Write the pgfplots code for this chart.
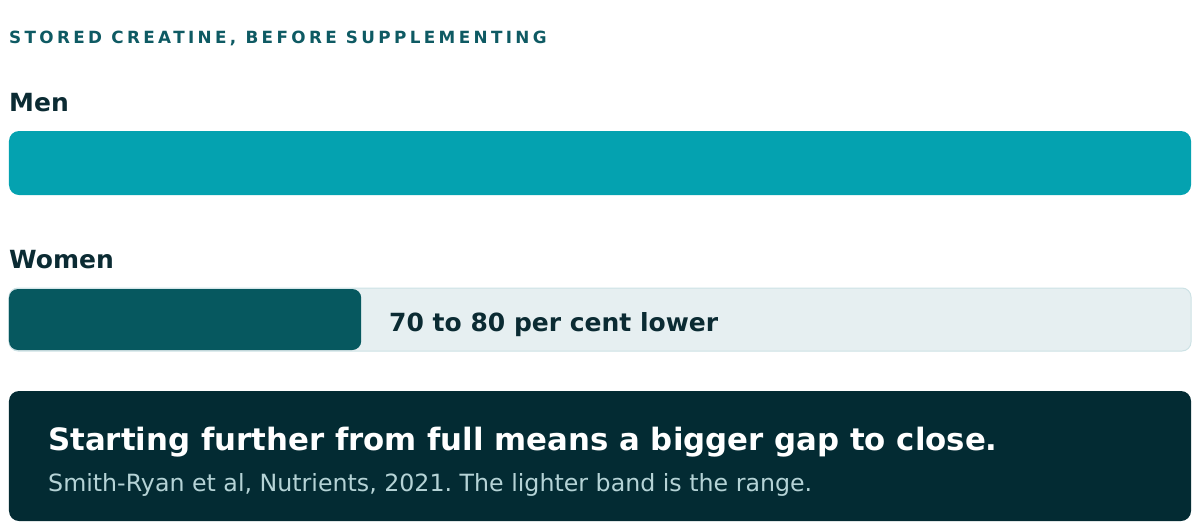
\documentclass[border=0pt]{standalone}
\usepackage{pgfplots}
\pgfplotsset{compat=1.18}
\usepackage{fontspec}
\setmainfont{DejaVu Sans}
\newfontfamily\trackfont[LetterSpace=20]{DejaVu Sans Bold}
\frenchspacing
\definecolor{menc}{RGB}{4,162,176}
\definecolor{womenc}{RGB}{6,88,95}
\definecolor{trackc}{RGB}{230,239,241}
\definecolor{trackb}{RGB}{205,226,229}
\definecolor{labc}{RGB}{11,43,51}
\definecolor{titc}{RGB}{14,90,99}
\definecolor{boxc}{RGB}{3,43,51}
\definecolor{subc}{RGB}{181,211,214}
\begin{document}
\begin{tikzpicture}[x=1pt,y=1pt]
\useasboundingbox (0,0) rectangle (1200,531);
\begin{axis}[
  at={(0,0)}, anchor=south west,
  scale only axis, width=1200pt, height=531pt,
  xmin=-0.7614, xmax=100.7614,
  ymin=0, ymax=531, y dir=reverse,
  hide axis, clip=false,
]
% track (full scale) for women
\addplot[fill=trackc, draw=trackb, line width=1pt, rounded corners=9pt]
  coordinates {(0,288) (100,288) (100,351) (0,351)} --cycle;
% men: 100 (reference level)
\addplot[fill=menc, draw=none, rounded corners=10pt]
  coordinates {(0,131) (100,131) (100,195) (0,195)} --cycle;
% women: 70 to 80 per cent lower
\addplot[fill=womenc, draw=none, rounded corners=9pt]
  coordinates {(0,289) (29.8,289) (29.8,350) (0,350)} --cycle;
% summary box
\addplot[fill=boxc, draw=none, rounded corners=10pt]
  coordinates {(0,391) (100,391) (100,521) (0,521)} --cycle;
\end{axis}
\node[anchor=base west, inner sep=0pt, text=titc, font=\trackfont\fontsize{16.8}{18}\selectfont] at (9,531-43.5) {STORED CREATINE, BEFORE SUPPLEMENTING};
\node[anchor=base west, inner sep=0pt, text=labc, font=\bfseries\fontsize{25}{28}\selectfont] at (9,531-112) {Men};
\node[anchor=base west, inner sep=0pt, text=labc, font=\bfseries\fontsize{25}{28}\selectfont] at (9,531-269) {Women};
\node[anchor=base west, inner sep=0pt, text=labc, font=\bfseries\fontsize{25}{28}\selectfont] at (389,531-331) {70 to 80 per cent lower};
\node[anchor=base west, inner sep=0pt, text=white, font=\bfseries\fontsize{30.8}{34}\selectfont] at (48,531-450) {Starting further from full means a bigger gap to close.};
\node[anchor=base west, inner sep=0pt, text=subc, font=\fontsize{23.7}{26}\selectfont] at (48,531-491.5) {Smith-Ryan et al, Nutrients, 2021. The lighter band is the range.};
\end{tikzpicture}
\end{document}
